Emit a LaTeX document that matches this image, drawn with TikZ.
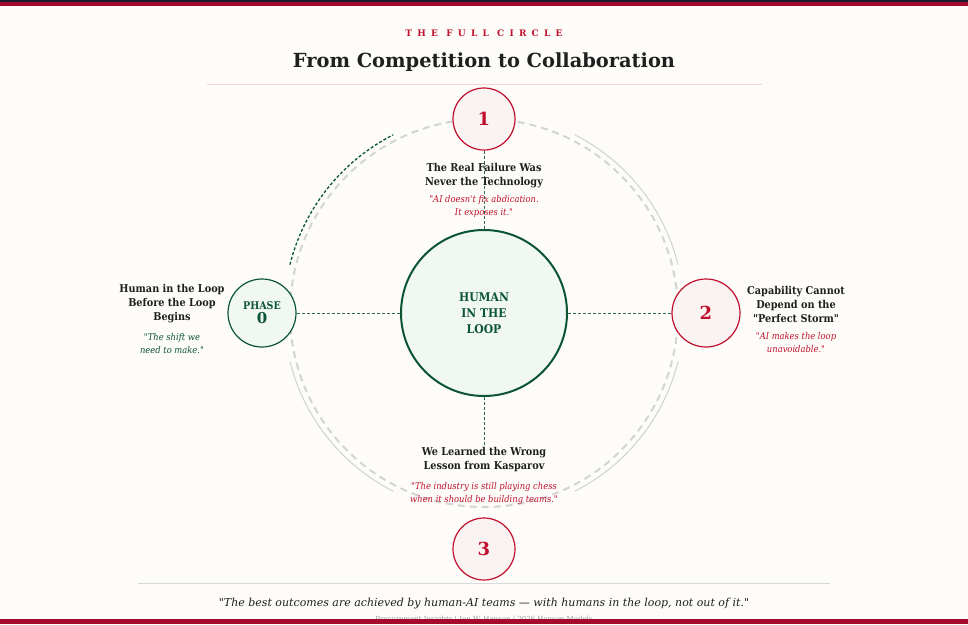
\documentclass[tikz,border=0pt]{standalone}
\usepackage{fontspec}
\setmainfont{DejaVu Serif}
\newfontfamily\condensed{DejaVu Serif Condensed}
\usetikzlibrary{positioning}

\definecolor{crimson}{HTML}{C0102E}
\definecolor{barred}{HTML}{A50A2D}
\definecolor{navy}{HTML}{1B1B2F}
\definecolor{loopgreen}{HTML}{0B5434}
\definecolor{paper}{HTML}{FDFCF8}
\definecolor{inkdark}{HTML}{1F1F1F}
\definecolor{pinkfill}{HTML}{FAF3F2}
\definecolor{greenfill}{HTML}{F1F8F4}

\newcommand{\dq}{\textquotedbl}

\tikzset{
  phasered/.style={circle, draw=crimson, line width=1.2pt, fill=pinkfill, inner sep=0pt,
    text=crimson, font=\bfseries\fontsize{18}{18}\selectfont},
  phasegreen/.style={circle, draw=loopgreen, line width=1.2pt, fill=greenfill, inner sep=0pt,
    text=loopgreen, align=center},
  heading/.style={align=center, text=inkdark, font=\condensed\bfseries\fontsize{10.8}{14}\selectfont},
  quote/.style={align=center, font=\condensed\itshape\fontsize{9.3}{13}\selectfont},
  spoke/.style={draw=loopgreen!85, line width=0.55pt, dash pattern=on 3pt off 2pt},
  arcline/.style={draw=black!18, line width=1pt},
}

\begin{document}
\begin{tikzpicture}[x=1pt,y=1pt]
  \useasboundingbox (0,0) rectangle (968,-624);
  \fill[paper] (0,0) rectangle (968,-624);

  % header
  \node (kicker) at (484,-33) {\addfontfeature{LetterSpace=58}\bfseries\fontsize{9}{9}\selectfont\color{crimson}THE FULL CIRCLE};
  \node[text=inkdark, font=\bfseries\fontsize{19.4}{20}\selectfont] (title) at (484,-62) {From Competition to Collaboration};
  \draw[crimson!18, line width=0.8pt] (207,-84) -- (762,-84);  % rule under title

  % the ring
  \coordinate (c) at (484,-313);
  \draw[black!17, line width=2pt, dash pattern=on 7pt off 5pt] (c) circle[radius=194];
  \draw[loopgreen, line width=1.3pt, dash pattern=on 3pt off 2pt] (c) ++(166:200) arc[start angle=166, end angle=117, radius=200];  % phase 0 to 1
  \draw[arcline] (c) ++(63:200) arc[start angle=63, end angle=14, radius=200];  % 1 to 2
  \draw[arcline] (c) ++(-14:200) arc[start angle=-14, end angle=-63, radius=200];  % 2 to 3
  \draw[arcline] (c) ++(-117:200) arc[start angle=-117, end angle=-166, radius=200];  % 3 to 0

  % circles
  \node[circle, draw=loopgreen, line width=2pt, fill=greenfill, minimum size=166pt, align=center,
    text=loopgreen, font=\condensed\bfseries\fontsize{12}{16}\selectfont] (hitl) at (c) {HUMAN\\IN THE\\LOOP};
  \node[phasered, minimum size=62pt] (p1) at (484,-119) {1};
  \node[phasered, minimum size=68pt] (p2) at (706,-313) {2};
  \node[phasered, minimum size=62pt] (p3) at (484,-549) {3};
  \node[phasegreen, minimum size=68pt] (p0) at (262,-313)
    {{\condensed\bfseries\fontsize{10.6}{11}\selectfont PHASE}\\[2pt]{\bfseries\fontsize{15}{15}\selectfont 0}};

  % spokes
  \coordinate (s3) at (484,-447);
  \draw[spoke] (p1.south) -- (hitl.north);
  \draw[spoke] (hitl.south) -- (s3);
  \draw[spoke] (p0.east) -- (hitl.west);
  \draw[spoke] (hitl.east) -- (p2.west);

  % texts
  \node[heading] (t1) at (484,-176) {The Real Failure Was\\Never the Technology};
  \node[quote, text=crimson, below=0.5pt of t1] (q1) {\dq AI doesn\textquotesingle t fix abdication.\\It exposes it.\dq};
  \node[heading] (t0) at (172,-304) {Human in the Loop\\Before the Loop\\Begins};
  \node[quote, text=loopgreen, below=3pt of t0] (q0) {\dq The shift we\\need to make.\dq};
  \node[heading] (t2) at (796,-304) {Capability Cannot\\Depend on the\\\dq Perfect Storm\dq};
  \node[quote, text=crimson, below=3pt of t2] (q2) {\dq AI makes the loop\\unavoidable.\dq};
  \node[heading] (t3) at (484,-460) {We Learned the Wrong\\Lesson from Kasparov};
  \node[quote, text=crimson, below=3pt of t3] (q3) {\dq The industry is still playing chess\\when it should be building teams.\dq};

  % footer
  \draw[black!15, line width=0.8pt] (138,-583) -- (830,-583);
  \node[text=inkdark, font=\itshape\fontsize{11}{12}\selectfont] (motto) at (484,-604)
    {\dq The best outcomes are achieved by human-AI teams — with humans in the loop, not out of it.\dq};
  \node[text=black!40, font=\fontsize{7}{8}\selectfont] (credit) at (484,-620) {Procurement Insights | Jon W. Hanson | 2026 Hanson Models};

  % bars
  \fill[barred] (0,0) rectangle (968,-6);
  \fill[navy] (0,0) rectangle (968,-1.7);
  \fill[barred] (0,-619) rectangle (968,-624);
\end{tikzpicture}
\end{document}
